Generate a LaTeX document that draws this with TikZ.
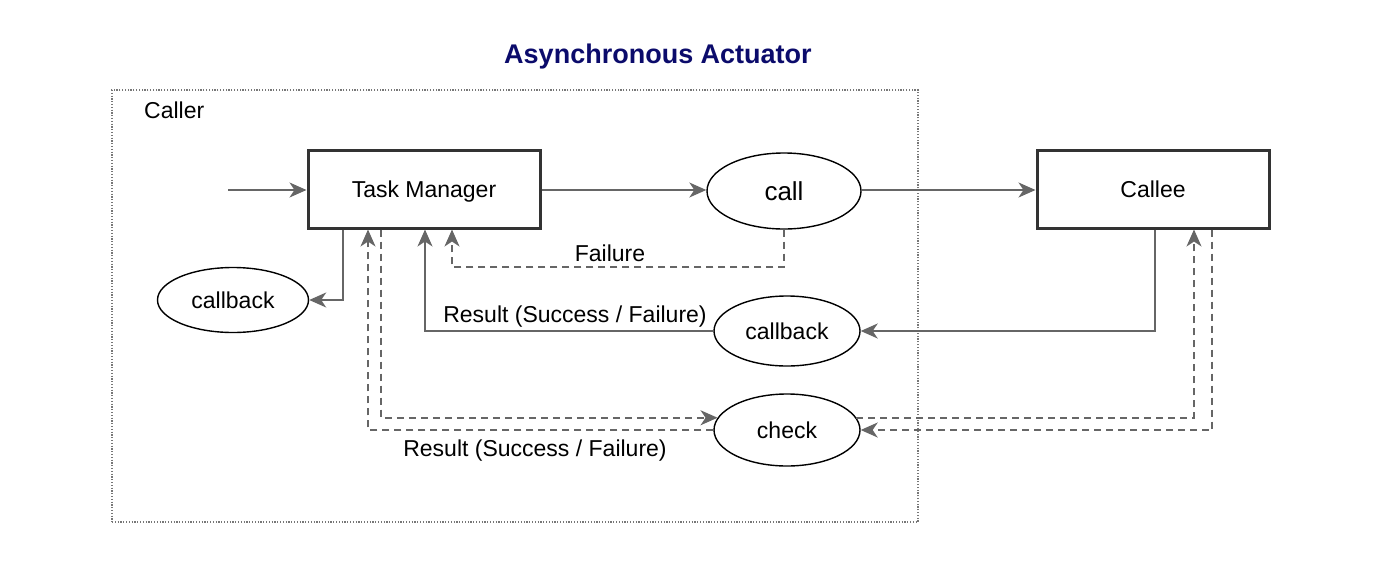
\documentclass[tikz,border=0pt]{standalone}
\usepackage{fontspec}
\setmainfont{Liberation Sans}
\usetikzlibrary{arrows.meta,shapes.geometric}
\definecolor{titlecol}{HTML}{0B0B6B}
\definecolor{linecol}{HTML}{666666}
\definecolor{boxcol}{HTML}{333333}
\definecolor{dotcol}{HTML}{777777}
\tikzset{
  txt/.style={text height=18pt, text depth=1pt},
  lbl/.style={font=\fontsize{23}{26}\selectfont, inner sep=0pt, txt},
  rectbox/.style={draw=boxcol, line width=3pt, minimum width=232pt, minimum height=78pt, inner sep=0pt, font=\fontsize{23}{26}\selectfont, txt},
  oval/.style={draw=black, line width=1.4pt, ellipse, inner sep=0pt, font=\fontsize{23}{26}\selectfont, txt},
  conn/.style={draw=linecol, line width=1.6pt, -{Stealth[length=17pt,width=15pt,inset=5pt]}},
  dconn/.style={conn, dash pattern=on 7pt off 5pt},
}
\begin{document}
\begin{tikzpicture}[x=1pt,y=-1pt]
\useasboundingbox (0,0) rectangle (1390,560);
\node[font=\fontsize{27}{30}\selectfont\bfseries, text=titlecol, text height=21pt, text depth=1pt] (title) at (658,53) {Asynchronous Actuator};
\node[draw=dotcol, line width=1.2pt, dash pattern=on 1.2pt off 1.6pt, minimum width=806pt, minimum height=432pt, inner sep=0pt] (caller) at (515,306) {};
\node[lbl, anchor=west] (callerlbl) at (144,110) {Caller};
\node[rectbox] (tm) at (424,189) {Task Manager};
\node[rectbox] (callee) at (1153,189) {Callee};
\node[oval, minimum width=154pt, minimum height=76pt, font=\fontsize{26}{30}\selectfont, text height=20pt] (call) at (784,191) {call};
\node[oval, minimum width=151pt, minimum height=65pt] (cbl) at (233,300) {callback};
\node[oval, minimum width=146pt, minimum height=70pt] (cbr) at (787,331) {callback};
\node[oval, minimum width=146pt, minimum height=72pt] (chk) at (787,430) {check};
\coordinate (in) at (228,190);
\draw[conn] (in) -- (tm.west |- in);
\draw[conn] (tm.east |- 0,190) -- (call.west |- 0,190);
\draw[conn] (call.east |- 0,190) -- (callee.west |- 0,190);
% Failure
\draw[dconn] (call.south) |- (452,267) -- (tm.south -| 452,0);
\node[lbl] (flbl) at (610,253) {Failure};
% TM -> callback left
\draw[conn] (tm.south -| 343,0) |- (cbl.east);
% Callee -> callback right
\draw[conn] (callee.south -| 1155,0) |- (cbr.east);
% callback right -> TM
\draw[conn] (cbr.west) -| (tm.south -| 425,0);
\node[lbl] (rlbl1) at (575,314) {Result (Success / Failure)};
% TM -> check
\draw[dconn] (tm.south -| 381,0) |- (chk.170);
% check -> TM
\draw[dconn] (chk.west) -| (tm.south -| 368,0);
\node[lbl] (rlbl2) at (535,448) {Result (Success / Failure)};
% check -> Callee
\draw[dconn] (chk.10) -| (callee.south -| 1194,0);
% Callee -> check
\draw[dconn] (callee.south -| 1212,0) |- (chk.east);
\end{tikzpicture}
\end{document}
